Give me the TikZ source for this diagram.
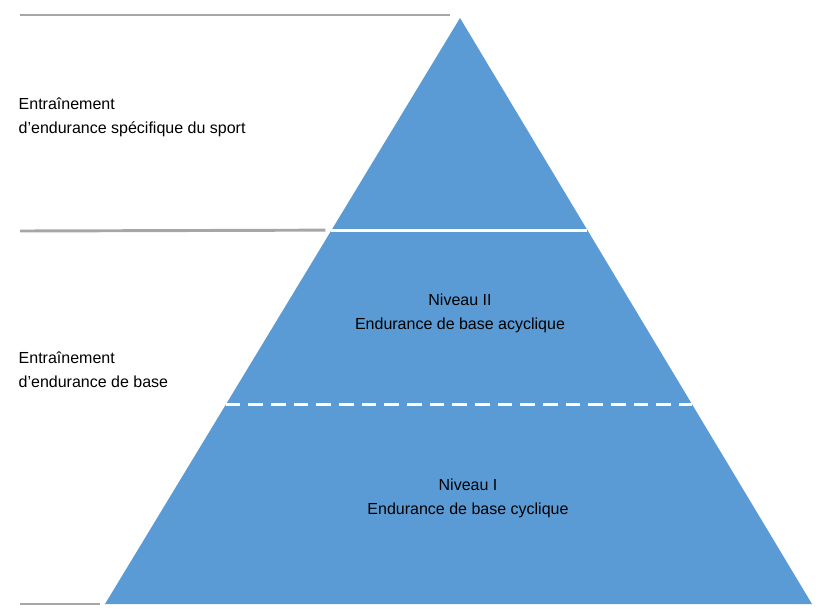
\documentclass[tikz,border=0pt]{standalone}
\usepackage{fontspec}
\setmainfont{Liberation Sans}
\usetikzlibrary{calc}
\definecolor{pyrblue}{RGB}{91,155,213}
\definecolor{rulegray}{RGB}{166,166,166}
\tikzset{
    % styles for the levels
    rule/.style={draw=rulegray, line width=2.2pt},
    split/.style={draw=white, line width=2.2pt},
    leveltext/.style={align=center, font=\fontsize{12}{18}\selectfont},
    sidetext/.style={align=left, anchor=west, font=\fontsize{12}{18}\selectfont}
}
\begin{document}
\begin{tikzpicture}[x=0.75pt,y=-0.75pt]
\useasboundingbox (0,0) rectangle (830,615);

% pyramid corners
\coordinate (apex) at (460,18);
\coordinate (baseL) at (105,604);
\coordinate (baseR) at (812,604);
\fill[pyrblue] (apex) -- (baseR) -- (baseL) -- cycle;

% tier separators
\coordinate (topL) at ($(apex)!0.362!(baseL)$);
\coordinate (topR) at ($(apex)!0.362!(baseR)$);
\coordinate (midL) at ($(apex)!0.66!(baseL)$);
\coordinate (midR) at ($(apex)!0.66!(baseR)$);
\draw[split] (topL) -- (topR);
\draw[split, dash pattern=on 11pt off 6pt] (midL) -- (midR);

% gray rules at the left
\coordinate (r1) at (20,15);
\coordinate (r2) at (20,231);
\coordinate (r3) at (20,604);
\draw[rule] (r1) -- (450,15);
\draw[rule] (r2) -- ($(topL)+(-6,0)$);
\draw[rule] (r3) -- ($(baseL)+(-5,0)$);

% labels
\node[sidetext] (sport) at (14,117) {Entraînement\\d’endurance spécifique du sport};
\node[sidetext] (base) at (14,370) {Entraînement\\d'endurance de base};
\node[leveltext] (lvl2) at (460,313) {Niveau II\\Endurance de base acyclique};
\node[leveltext] (lvl1) at (468,498) {Niveau I\\Endurance de base cyclique};

\end{tikzpicture}
\end{document}
